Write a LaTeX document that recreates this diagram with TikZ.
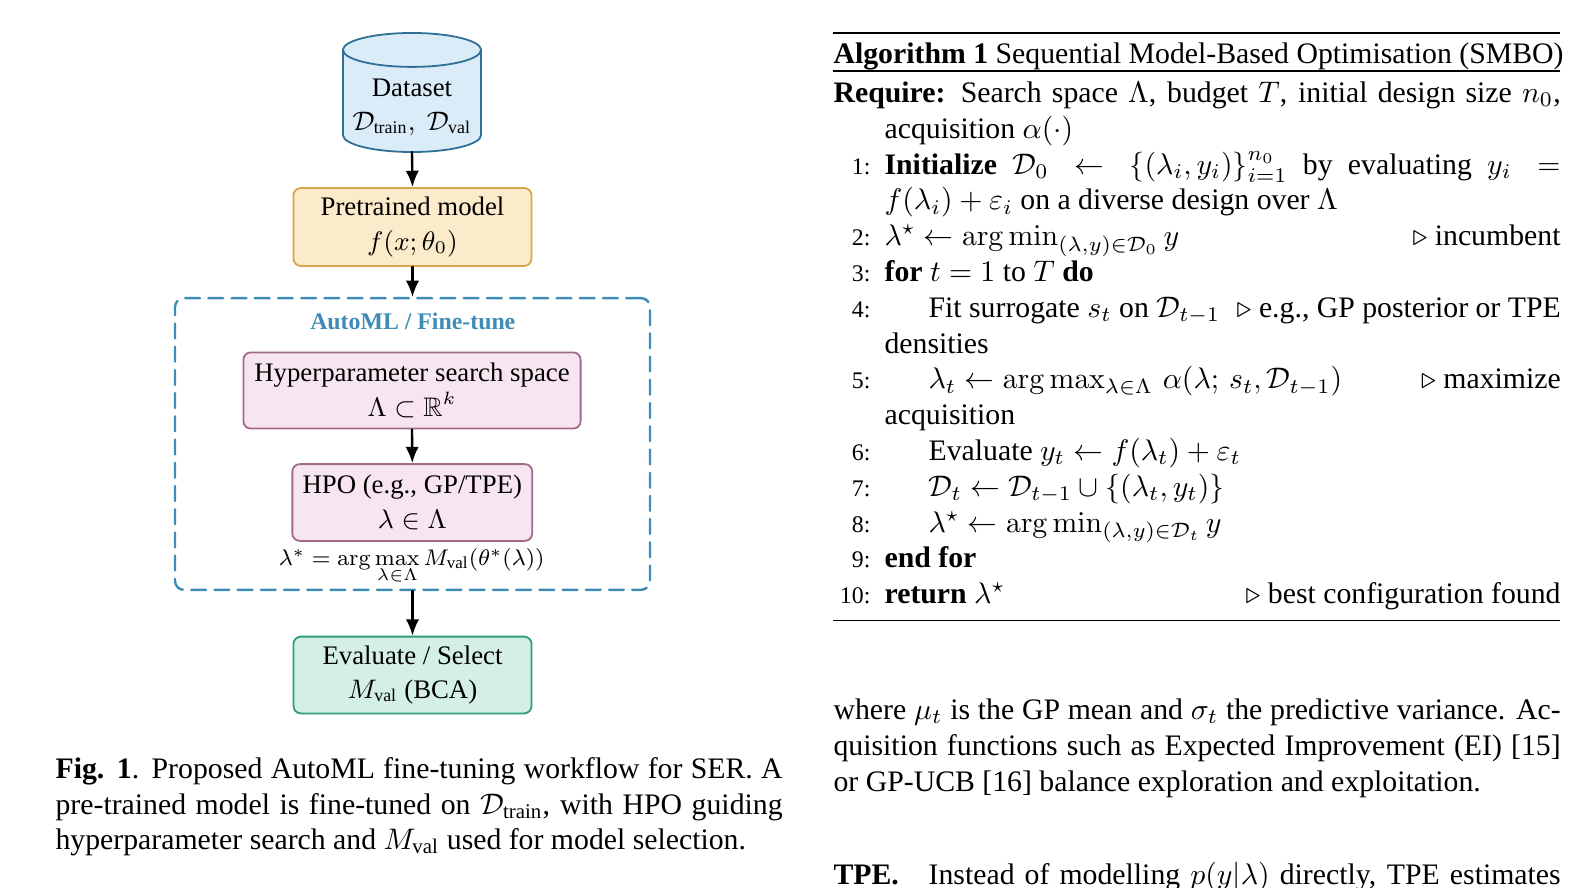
\documentclass[tikz,border=0pt]{standalone}
\usepackage{amsmath}
\usepackage{amssymb}
\usepackage{graphicx}
\usepackage[no-math]{fontspec}
\setmainfont{Liberation Serif}
\usepackage{tikz}
\usetikzlibrary{arrows.meta}
\usetikzlibrary{positioning}

\definecolor{dsline}{HTML}{2F6F96}
\definecolor{dsfill}{HTML}{D9ECF7}
\definecolor{ptline}{HTML}{D8A548}
\definecolor{ptfill}{HTML}{FCEBCA}
\definecolor{hpline}{HTML}{A06A8A}
\definecolor{hpfill}{HTML}{F7E6EF}
\definecolor{evline}{HTML}{2E9E74}
\definecolor{evfill}{HTML}{D4F0E6}
\definecolor{amlblue}{HTML}{3E8BB5}

\tikzset{
  flowbox/.style={rounded corners=2.5pt, line width=0.6pt, align=center, inner sep=1pt,
    font=\fontsize{9}{11.5}\selectfont},
  flow/.style={-{Latex[length=5.5pt,width=4.5pt]}, line width=0.8pt},
  algtext/.style={anchor=base west, inner sep=0pt, font=\fontsize{10}{12}\selectfont},
  algnum/.style={anchor=base east, inner sep=0pt, font=\fontsize{8}{9.5}\selectfont},
  capr/.style={x radius=23.2pt, y radius=5.7pt},
}

\begin{document}
\begin{tikzpicture}[x=0.336pt, y=-0.336pt, line cap=round, line join=round]
  \useasboundingbox (0,0) rectangle (1575,888);
  %--- Dataset
    \node[minimum width=46.4pt, minimum height=40pt, inner sep=0pt, outer sep=0pt] (data) at (412,92.5) {};
    \draw[dsline, fill=dsfill, line width=0.6pt] ([yshift=-5.7pt]data.north west)
      -- ([yshift=5.7pt]data.south west) arc[start angle=180, end angle=360, capr]
      -- ([yshift=-5.7pt]data.north east) arc[start angle=0, end angle=180, capr] -- cycle;
    \draw[dsline, line width=0.6pt] ([yshift=-5.7pt]data.north west) arc[start angle=180, end angle=360, capr];
    \node[align=center, inner sep=1pt, font=\fontsize{9}{11.5}\selectfont] (datalbl) at (412,107)
      {Dataset\\$\mathcal{D}_{\text{train}},\ \mathcal{D}_{\text{val}}$};
  %--- Pretrained model
    \node[flowbox, draw=ptline, fill=ptfill, minimum width=80pt, minimum height=26.2pt] (pre) at (412.5,227)
      {Pretrained model\\$f(x;\theta_0)$};
  %--- AutoML frame
    \node[draw=amlblue, line width=0.8pt, dash pattern=on 5pt off 2.8pt, rounded corners=3pt,
      minimum width=159.6pt, minimum height=98pt] (frame) at (412.5,444) {};
    \node[anchor=base, inner sep=0pt, text=amlblue, font=\fontsize{8}{9.6}\selectfont\bfseries] (ftitle) at (412.8,330)
      {AutoML / Fine-tune};
  %--- Search space
    \node[flowbox, draw=hpline, fill=hpfill, minimum width=113.3pt, minimum height=25.6pt] (space) at (412,390.5)
      {Hyperparameter search space\\$\Lambda\subset\mathbb{R}^k$};
  %--- HPO
    \node[flowbox, draw=hpline, fill=hpfill, minimum width=80.6pt, minimum height=25.8pt] (hpo) at (412.3,502.5)
      {HPO (e.g., GP/TPE)\\$\lambda\in\Lambda$};
    \node[anchor=base, inner sep=0pt, font=\fontsize{8}{9.5}\selectfont] (objective) at (411.7,565)
      {\scalebox{0.95}{$\lambda^* = \arg\max\limits_{\lambda\in\Lambda} M_{\text{val}}(\theta^*(\lambda))$}};
  %--- Evaluate
    \node[flowbox, draw=evline, fill=evfill, minimum width=80pt, minimum height=25.8pt] (eval) at (412.5,675)
      {Evaluate / Select\\$M_{\text{val}}$ (BCA)};
  %--- Arrows
    \draw[flow] (data.south) -- (pre.north);
    \draw[flow] (pre.south) -- (frame.north);
    \draw[flow] (space.south) -- (hpo.north);
    \draw[flow] (frame.south) -- (eval.north);
  %--- Figure caption
    \node[algtext] (cap1) at (55,778)
      {\makebox[244.3pt][s]{\textbf{Fig. 1}. Proposed AutoML fine-tuning workflow for SER. A}};
    \node[algtext] (cap2) at (55,814)
      {\makebox[244.3pt][s]{pre-trained model is fine-tuned on $\mathcal{D}_{\text{train}}$, with HPO guiding}};
    \node[algtext] (cap3) at (55,849)
      {hyperparameter search and $M_{\text{val}}$ used for model selection.};
  %--- Algorithm rules
    \coordinate (rt1) at (833,33);     \coordinate (rt2) at (1560,33);
    \coordinate (rm1) at (833,71);     \coordinate (rm2) at (1560,71);
    \coordinate (rb1) at (833,620.5);  \coordinate (rb2) at (1560,620.5);
    \draw[line width=0.8pt, line cap=butt] (rt1) -- (rt2);
    \draw[line width=0.4pt, line cap=butt] (rm1) -- (rm2);
    \draw[line width=0.4pt, line cap=butt] (rb1) -- (rb2);
  %--- Algorithm caption
    \node[algtext] (algcap) at (833,63.7)
      {\textbf{Algorithm 1} Sequential Model-Based Optimisation (SMBO)};
  %--- Require
    \node[algtext] (req) at (833,102.5)
      {\makebox[244.3pt][s]{\textbf{Require:} Search space $\Lambda$, budget $T$, initial design size $n_0$,}};
    \node[algtext] (req2) at (884,138.3) {acquisition $\alpha(\cdot)$};
  %--- Line numbers
    \foreach \k/\n in {2/1, 4/2, 5/3, 6/4, 8/5, 10/6, 11/7, 12/8, 13/9, 14/10}
      \node[algnum] (num\n) at (871,{102.5+35.8*\k}) {\n:};
  %--- Algorithm body
    \node[algtext] (l1) at (884,174.1)
      {\makebox[227.1pt][s]{\textbf{Initialize} $\mathcal{D}_0 \leftarrow \{(\lambda_i, y_i)\}_{i=1}^{n_0}$ by evaluating $y_i =$}};
    \node[algtext] (l1b) at (884,209.9) {$f(\lambda_i) + \varepsilon_i$ on a diverse design over $\Lambda$};
    \node[algtext] (l2) at (884,245.7)
      {\makebox[227.1pt][l]{$\lambda^\star \leftarrow \arg\min_{(\lambda,y)\in\mathcal{D}_0} y$\hfill$\triangleright$ incumbent}};
    \node[algtext] (l3) at (884,281.5) {\textbf{for} $t = 1$ to $T$ \textbf{do}};
    \node[algtext] (l4) at (928,317.3)
      {\makebox[212.4pt][l]{Fit surrogate $s_t$ on $\mathcal{D}_{t-1}$\hfill$\triangleright$ e.g., GP posterior or TPE}};
    \node[algtext] (l4b) at (884,353.1) {densities};
    \node[algtext] (l5) at (928,388.9)
      {\makebox[212.4pt][l]{$\lambda_t \leftarrow \arg\max_{\lambda\in\Lambda}\, \alpha(\lambda;\, s_t, \mathcal{D}_{t-1})$\hfill$\triangleright$ maximize}};
    \node[algtext] (l5b) at (884,424.7) {acquisition};
    \node[algtext] (l6) at (928,460.5) {Evaluate $y_t \leftarrow f(\lambda_t) + \varepsilon_t$};
    \node[algtext] (l7) at (928,496.3) {$\mathcal{D}_t \leftarrow \mathcal{D}_{t-1} \cup \{(\lambda_t, y_t)\}$};
    \node[algtext] (l8) at (928,532.1) {$\lambda^\star \leftarrow \arg\min_{(\lambda,y)\in\mathcal{D}_t} y$};
    \node[algtext] (l9) at (884,567.9) {\textbf{end for}};
    \node[algtext] (l10) at (884,603.7)
      {\makebox[227.1pt][l]{\textbf{return} $\lambda^\star$\hfill$\triangleright$ best configuration found}};
  %--- Body text
    \node[algtext] (txt1) at (833,719)
      {\makebox[244.3pt][s]{where $\mu_t$ is the GP mean and $\sigma_t$ the predictive variance. Ac-}};
    \node[algtext] (txt2) at (833,755)
      {\makebox[244.3pt][s]{quisition functions such as Expected Improvement (EI) [15]}};
    \node[algtext] (txt3) at (833,791)
      {or GP-UCB [16] balance exploration and exploitation.};
    \node[algtext] (txt4) at (833,884)
      {\makebox[244.3pt][s]{\textbf{TPE.}\quad Instead of modelling $p(y|\lambda)$ directly, TPE estimates}};
\end{tikzpicture}
\end{document}
